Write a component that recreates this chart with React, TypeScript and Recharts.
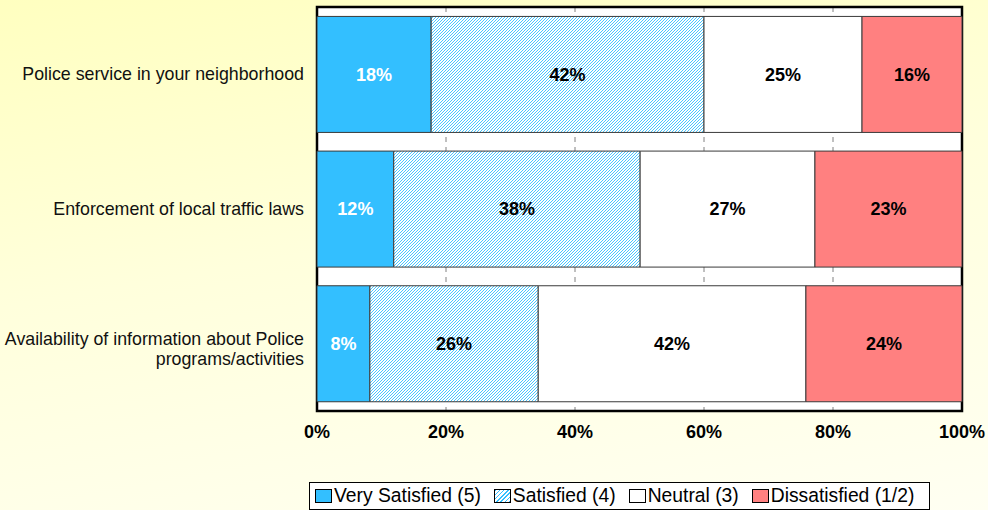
import React from "react";
import { BarChart, Bar, XAxis, YAxis, CartesianGrid, LabelList, Legend, ReferenceArea } from "recharts";

const categories = [
  "Police service in your neighborhood",
  "Enforcement of local traffic laws",
  "Availability of information about Police\nprograms/activities",
];
const verySatisfied = [17.7, 11.9, 8.2];
const satisfied = [42.3, 38.2, 26.1];
const neutral = [24.5, 27.1, 41.5];
const dissatisfied = [15.5, 22.8, 24.2];
const xTicks = [0, 0.2, 0.4, 0.6, 0.8, 1];

const BLUE = "#33BFFF";
const RED = "#FF8080";
const FONT = "'Liberation Sans', Arial, sans-serif";

const data = categories.map((name, i) => ({
  name,
  vs: verySatisfied[i],
  s: satisfied[i],
  n: neutral[i],
  d: dissatisfied[i],
}));

const series = [
  { key: "vs", label: "Very Satisfied (5)", fill: BLUE, labelColor: "#fff" },
  { key: "s", label: "Satisfied (4)", fill: "url(#hatch)", labelColor: "#000" },
  { key: "n", label: "Neutral (3)", fill: "#fff", labelColor: "#000" },
  { key: "d", label: "Dissatisfied (1/2)", fill: RED, labelColor: "#000" },
];

const legendSwatch: Record<string, React.CSSProperties> = {
  vs: { background: BLUE },
  s: { background: `repeating-linear-gradient(135deg, ${BLUE} 0 1px, #fff 1px 3px)` },
  n: { background: "#fff" },
  d: { background: RED },
};

function CategoryTick(props: any) {
  const { x, y, payload } = props;
  const lines = String(payload.value).split("\n");
  const start = lines.length > 1 ? -5 : 0;
  return (
    <text x={x} y={y} textAnchor="end" fontSize={17.8} fontFamily={FONT} fill="#111">
      {lines.map((l, i) => (
        <tspan key={i} x={x} dy={i === 0 ? start + 6 : 20}>
          {l}
        </tspan>
      ))}
    </text>
  );
}

function LegendBox() {
  return (
    <div
      style={{
        height: 28,
        border: "1px solid #000",
        background: "#fff",
        display: "flex",
        alignItems: "center",
        paddingLeft: 5,
        fontFamily: FONT,
        fontSize: 19.3,
        color: "#000",
        boxSizing: "border-box",
        whiteSpace: "nowrap",
      }}
    >
      {series.map((s) => (
        <span key={s.key} style={{ display: "inline-flex", alignItems: "center", marginRight: 13 }}>
          <span
            style={{
              display: "inline-block",
              width: 17,
              height: 14,
              border: "1px solid #000",
              boxSizing: "border-box",
              marginRight: 2,
              ...legendSwatch[s.key],
            }}
          />
          {s.label}
        </span>
      ))}
    </div>
  );
}

export default function App() {
  return (
    <div
      style={{
        position: "fixed",
        top: 0,
        left: 0,
        width: 988,
        height: 510,
        overflow: "hidden",
        background: "linear-gradient(170deg, #FFFFC0 0%, #FFFFDC 45%, #FFFFF2 100%)",
      }}
    >
      <BarChart
        width={988}
        height={510}
        data={data}
        layout="vertical"
        stackOffset="expand"
        barCategoryGap="7%"
        margin={{ top: 7, right: 26, bottom: 0, left: 0 }}
      >
        <defs>
          <pattern id="hatch" patternUnits="userSpaceOnUse" width={3} height={3}>
            <rect width={3} height={3} fill="#fff" />
            <path d="M-1,1 l2,-2 M0,3 l3,-3 M2,4 l2,-2" stroke={BLUE} strokeWidth={0.9} />
          </pattern>
        </defs>
        <CartesianGrid horizontal={false} stroke="#808080" strokeDasharray="5 5" fill="#fff" />
        <XAxis
          type="number"
          domain={[0, 1]}
          ticks={xTicks}
          interval={0}
          height={71}
          tickFormatter={(v: number) => `${Math.round(v * 100)}%`}
          tick={{ fontSize: 18, fontWeight: "bold", fontFamily: FONT, fill: "#000" }}
          tickLine={false}
          tickSize={0}
          tickMargin={14}
          axisLine={false}
        />
        <YAxis
          type="category"
          dataKey="name"
          width={317}
          tick={<CategoryTick />}
          tickLine={false}
          tickSize={0}
          tickMargin={13}
          axisLine={false}
        />
        <Legend
          verticalAlign="bottom"
          content={<LegendBox />}
          wrapperStyle={{ left: 309, width: 621, bottom: 0 }}
        />
        {series.map((s) => (
          <Bar
            key={s.key}
            dataKey={s.key}
            stackId="a"
            fill={s.fill}
            stroke="#3a3a3a"
            strokeWidth={1}
            isAnimationActive={false}
          >
            <LabelList
              dataKey={s.key}
              position="center"
              formatter={(v: any) => `${Math.round(Number(v))}%`}
              fill={s.labelColor}
              fontSize={18}
              fontWeight="bold"
              fontFamily={FONT}
            />
          </Bar>
        ))}
        <ReferenceArea x1={0} x2={1} fill="none" stroke="#000" strokeWidth={2.5} ifOverflow="visible" />
      </BarChart>
    </div>
  );
}
